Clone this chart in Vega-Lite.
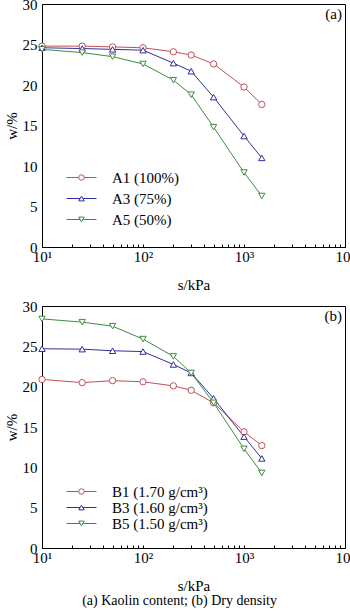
{
  "$schema": "https://vega.github.io/schema/vega-lite/v6.json",
  "autosize": {"type": "pad"},
  "padding": {"left": 3, "top": -4, "right": 0, "bottom": 0},
  "background": "white",
  "config": {
    "font": "Liberation Serif",
    "view": {"stroke": "black", "strokeWidth": 1},
    "axis": {"labelFont": "Liberation Serif", "titleFont": "Liberation Serif", "labelFontSize": 15, "titleFontSize": 15, "titleFontWeight": "normal", "labelColor": "black", "titleColor": "black", "domainColor": "black", "tickColor": "black", "grid": false},
    "legend": {"labelFont": "Liberation Serif", "labelFontSize": 15, "labelColor": "black", "padding": 0}
  },
  "title": {"text": "(a) Kaolin content; (b) Dry density", "orient": "bottom", "anchor": "middle", "fontSize": 14, "font": "Liberation Serif", "fontWeight": "normal", "offset": 0, "color": "black"},
  "bounds": "flush",
  "spacing": 59,
  "resolve": {"scale": {"color": "independent", "shape": "independent", "stroke": "independent"}, "legend": {"color": "independent", "shape": "independent", "stroke": "independent"}},
  "vconcat": [
    {
      "width": 303,
      "height": 243,
      "title": {"text": "(a)", "anchor": "end", "frame": "group", "fontSize": 15, "font": "Liberation Serif", "fontWeight": "normal", "dy": 29, "dx": -3, "color": "black"},
      "data": {"values": [
        {"s": 10, "w": 24.8, "series": "A1 (100%)"},
        {"s": 25, "w": 24.8, "series": "A1 (100%)"},
        {"s": 50, "w": 24.7, "series": "A1 (100%)"},
        {"s": 100, "w": 24.6, "series": "A1 (100%)"},
        {"s": 200, "w": 24.1, "series": "A1 (100%)"},
        {"s": 300, "w": 23.7, "series": "A1 (100%)"},
        {"s": 500, "w": 22.6, "series": "A1 (100%)"},
        {"s": 1000, "w": 19.75, "series": "A1 (100%)"},
        {"s": 1500, "w": 17.6, "series": "A1 (100%)"},
        {"s": 10, "w": 24.6, "series": "A3 (75%)"},
        {"s": 25, "w": 24.5, "series": "A3 (75%)"},
        {"s": 50, "w": 24.4, "series": "A3 (75%)"},
        {"s": 100, "w": 24.3, "series": "A3 (75%)"},
        {"s": 200, "w": 22.7, "series": "A3 (75%)"},
        {"s": 300, "w": 21.7, "series": "A3 (75%)"},
        {"s": 500, "w": 18.5, "series": "A3 (75%)"},
        {"s": 1000, "w": 13.7, "series": "A3 (75%)"},
        {"s": 1500, "w": 11.0, "series": "A3 (75%)"},
        {"s": 10, "w": 24.4, "series": "A5 (50%)"},
        {"s": 25, "w": 24.0, "series": "A5 (50%)"},
        {"s": 50, "w": 23.5, "series": "A5 (50%)"},
        {"s": 100, "w": 22.6, "series": "A5 (50%)"},
        {"s": 200, "w": 20.6, "series": "A5 (50%)"},
        {"s": 300, "w": 18.8, "series": "A5 (50%)"},
        {"s": 500, "w": 14.8, "series": "A5 (50%)"},
        {"s": 1000, "w": 9.2, "series": "A5 (50%)"},
        {"s": 1500, "w": 6.3, "series": "A5 (50%)"}
      ]},
      "encoding": {
        "x": {"field": "s", "type": "quantitative", "scale": {"type": "log", "domain": [10, 10000], "nice": false},
          "axis": {"title": "s/kPa", "values": [10,20,30,40,50,60,70,80,90,100,200,300,400,500,600,700,800,900,1000,2000,3000,4000,5000,6000,7000,8000,9000,10000], "labelExpr": "datum.value == 10 ? '10¹' : datum.value == 100 ? '10²' : datum.value == 1000 ? '10³' : datum.value == 10000 ? '10⁴' : ''", "tickSize": -3, "labelPadding": 5, "titlePadding": 13, "labelFlush": false, "labelOverlap": false}},
        "y": {"field": "w", "type": "quantitative", "scale": {"domain": [0, 30], "nice": false},
          "axis": {"title": "w/%", "values": [0,5,10,15,20,25,30], "ticks": false, "labelPadding": 5, "titlePadding": 3, "labelFlush": false}}
      },
      "layer": [
        {"mark": {"type": "line", "strokeWidth": 1},
          "encoding": {"stroke": {"field": "series", "type": "nominal", "scale": {"domain": ["A5 (50%)", "A3 (75%)", "A1 (100%)"], "range": ["#3f8a3f", "#30309c", "#c0505a"]},
            "legend": {"orient": "none", "legendX": 32, "legendY": 166, "title": null, "values": ["A1 (100%)", "A3 (75%)", "A5 (50%)"], "symbolType": "M-5,0L5,0", "symbolSize": 36, "symbolStrokeWidth": 1, "labelOffset": 23, "rowPadding": 5, "labelColor": "transparent"}}}},
        {"mark": {"type": "point", "filled": false, "fill": "white", "size": 40, "strokeWidth": 1, "opacity": 1},
          "encoding": {
            "color": {"field": "series", "type": "nominal", "scale": {"domain": ["A1 (100%)", "A3 (75%)", "A5 (50%)"], "range": ["#c0505a", "#30309c", "#3f8a3f"]},
              "legend": {"orient": "none", "legendX": 32, "legendY": 166, "title": null, "symbolSize": 30, "symbolFillColor": "white", "symbolStrokeWidth": 1, "labelOffset": 23, "rowPadding": 5}},
            "shape": {"field": "series", "type": "nominal", "scale": {"domain": ["A1 (100%)", "A3 (75%)", "A5 (50%)"], "range": ["circle", "triangle-up", "triangle-down"]}}}}
      ]
    },
    {
      "width": 303,
      "height": 242,
      "title": {"text": "(b)", "anchor": "end", "frame": "group", "fontSize": 15, "font": "Liberation Serif", "fontWeight": "normal", "dy": 29, "dx": -3, "color": "black"},
      "data": {"values": [
        {"s": 10, "w": 20.9, "series": "B1 (1.70 g/cm³)"},
        {"s": 25, "w": 20.5, "series": "B1 (1.70 g/cm³)"},
        {"s": 50, "w": 20.75, "series": "B1 (1.70 g/cm³)"},
        {"s": 100, "w": 20.6, "series": "B1 (1.70 g/cm³)"},
        {"s": 200, "w": 20.1, "series": "B1 (1.70 g/cm³)"},
        {"s": 300, "w": 19.55, "series": "B1 (1.70 g/cm³)"},
        {"s": 500, "w": 18.0, "series": "B1 (1.70 g/cm³)"},
        {"s": 1000, "w": 14.4, "series": "B1 (1.70 g/cm³)"},
        {"s": 1500, "w": 12.7, "series": "B1 (1.70 g/cm³)"},
        {"s": 10, "w": 24.7, "series": "B3 (1.60 g/cm³)"},
        {"s": 25, "w": 24.65, "series": "B3 (1.60 g/cm³)"},
        {"s": 50, "w": 24.45, "series": "B3 (1.60 g/cm³)"},
        {"s": 100, "w": 24.35, "series": "B3 (1.60 g/cm³)"},
        {"s": 200, "w": 22.75, "series": "B3 (1.60 g/cm³)"},
        {"s": 300, "w": 21.7, "series": "B3 (1.60 g/cm³)"},
        {"s": 500, "w": 18.55, "series": "B3 (1.60 g/cm³)"},
        {"s": 1000, "w": 13.8, "series": "B3 (1.60 g/cm³)"},
        {"s": 1500, "w": 11.1, "series": "B3 (1.60 g/cm³)"},
        {"s": 10, "w": 28.4, "series": "B5 (1.50 g/cm³)"},
        {"s": 25, "w": 28.0, "series": "B5 (1.50 g/cm³)"},
        {"s": 50, "w": 27.5, "series": "B5 (1.50 g/cm³)"},
        {"s": 100, "w": 25.9, "series": "B5 (1.50 g/cm³)"},
        {"s": 200, "w": 23.75, "series": "B5 (1.50 g/cm³)"},
        {"s": 300, "w": 21.7, "series": "B5 (1.50 g/cm³)"},
        {"s": 500, "w": 18.0, "series": "B5 (1.50 g/cm³)"},
        {"s": 1000, "w": 12.3, "series": "B5 (1.50 g/cm³)"},
        {"s": 1500, "w": 9.3, "series": "B5 (1.50 g/cm³)"}
      ]},
      "encoding": {
        "x": {"field": "s", "type": "quantitative", "scale": {"type": "log", "domain": [10, 10000], "nice": false},
          "axis": {"title": "s/kPa", "values": [10,20,30,40,50,60,70,80,90,100,200,300,400,500,600,700,800,900,1000,2000,3000,4000,5000,6000,7000,8000,9000,10000], "labelExpr": "datum.value == 10 ? '10¹' : datum.value == 100 ? '10²' : datum.value == 1000 ? '10³' : datum.value == 10000 ? '10⁴' : ''", "tickSize": -3, "labelPadding": 5, "titlePadding": 13, "labelFlush": false, "labelOverlap": false}},
        "y": {"field": "w", "type": "quantitative", "scale": {"domain": [0, 30], "nice": false},
          "axis": {"title": "w/%", "values": [0,5,10,15,20,25,30], "ticks": false, "labelPadding": 5, "titlePadding": 3, "labelFlush": false}}
      },
      "layer": [
        {"mark": {"type": "line", "strokeWidth": 1},
          "encoding": {"stroke": {"field": "series", "type": "nominal", "scale": {"domain": ["B5 (1.50 g/cm³)", "B3 (1.60 g/cm³)", "B1 (1.70 g/cm³)"], "range": ["#3f8a3f", "#30309c", "#c0505a"]},
            "legend": {"orient": "none", "legendX": 32, "legendY": 178, "title": null, "values": ["B1 (1.70 g/cm³)", "B3 (1.60 g/cm³)", "B5 (1.50 g/cm³)"], "symbolType": "M-5,0L5,0", "symbolSize": 36, "symbolStrokeWidth": 1, "labelOffset": 23, "rowPadding": -1, "labelColor": "transparent"}}}},
        {"mark": {"type": "point", "filled": false, "fill": "white", "size": 40, "strokeWidth": 1, "opacity": 1},
          "encoding": {
            "color": {"field": "series", "type": "nominal", "scale": {"domain": ["B1 (1.70 g/cm³)", "B3 (1.60 g/cm³)", "B5 (1.50 g/cm³)"], "range": ["#c0505a", "#30309c", "#3f8a3f"]},
              "legend": {"orient": "none", "legendX": 32, "legendY": 178, "title": null, "symbolSize": 30, "symbolFillColor": "white", "symbolStrokeWidth": 1, "labelOffset": 23, "rowPadding": -1}},
            "shape": {"field": "series", "type": "nominal", "scale": {"domain": ["B1 (1.70 g/cm³)", "B3 (1.60 g/cm³)", "B5 (1.50 g/cm³)"], "range": ["circle", "triangle-up", "triangle-down"]}}}}
      ]
    }
  ]
}
